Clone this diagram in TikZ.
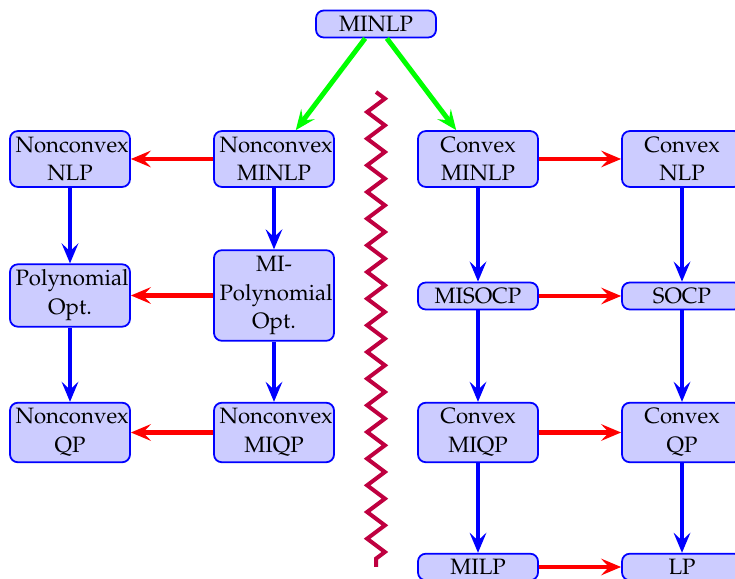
\documentclass[tikz,border=0pt]{standalone}
\usepackage[T1]{fontenc}
\usepackage{mathpazo}
\usetikzlibrary{arrows.meta,decorations.pathmorphing}
\begin{document}
\begin{tikzpicture}[x=0.45pt,y=-0.45pt,
  box/.style={draw=blue, fill=blue!20, thick, rounded corners=3.5pt, text width=49pt, align=center, inner sep=2.5pt, font=\fontsize{10}{13}\selectfont},
  arr/.style={line width=2.2pt, -{Stealth[length=9pt,width=7.5pt,inset=3.5pt]}},
  garr/.style={arr, green},
  rarr/.style={arr, red},
  barr/.style={arr, blue},
  zz/.style={purple, line width=1.8pt, decorate, decoration={zigzag, segment length=12pt, amplitude=4pt}}
]
\useasboundingbox (0,0) rectangle (735,579);
\node[box] (minlp) at (376,24) {MINLP};
\node[box] (nnlp) at (70,159) {Nonconvex\\NLP};
\node[box] (nminlp) at (274,159) {Nonconvex\\MINLP};
\node[box] (cminlp) at (478,159) {Convex\\MINLP};
\node[box] (cnlp) at (682,159) {Convex\\NLP};
\node[box] (poly) at (70,295.5) {Polynomial\\Opt.};
\node[box] (mipoly) at (274,295.5) {MI-\\Polynomial\\Opt.};
\node[box] (misocp) at (478,296) {MISOCP};
\node[box] (socp) at (682,296) {SOCP};
\node[box] (nqp) at (70,432.5) {Nonconvex\\QP};
\node[box] (nmiqp) at (274,432.5) {Nonconvex\\MIQP};
\node[box] (cmiqp) at (478,432.5) {Convex\\MIQP};
\node[box] (cqp) at (682,432.5) {Convex\\QP};
\node[box] (milp) at (478,567) {MILP};
\node[box] (lp) at (682,567) {LP};
\coordinate (z1) at (376,92);
\coordinate (z2) at (376,567);
\draw[zz] (z1) -- (z2);
\draw[garr] (minlp) -- (nminlp);
\draw[garr] (minlp) -- (cminlp);
\draw[rarr] (nminlp) -- (nnlp);
\draw[rarr] (mipoly) -- (poly);
\draw[rarr] (nmiqp) -- (nqp);
\draw[rarr] (cminlp) -- (cnlp);
\draw[rarr] (misocp) -- (socp);
\draw[rarr] (cmiqp) -- (cqp);
\draw[rarr] (milp) -- (lp);
\draw[barr] (nnlp) -- (poly);
\draw[barr] (poly) -- (nqp);
\draw[barr] (nminlp) -- (mipoly);
\draw[barr] (mipoly) -- (nmiqp);
\draw[barr] (cminlp) -- (misocp);
\draw[barr] (misocp) -- (cmiqp);
\draw[barr] (cmiqp) -- (milp);
\draw[barr] (cnlp) -- (socp);
\draw[barr] (socp) -- (cqp);
\draw[barr] (cqp) -- (lp);
\end{tikzpicture}
\end{document}
